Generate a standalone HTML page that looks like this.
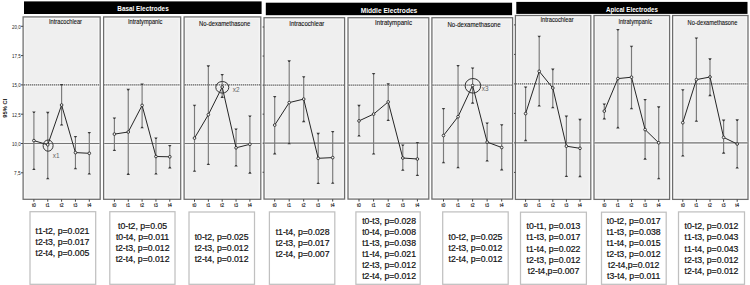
<!DOCTYPE html><html><head><meta charset="utf-8"><style>html,body{margin:0;padding:0;background:#fff;width:750px;height:285px;overflow:hidden}svg{display:block}text{font-family:"Liberation Sans", sans-serif}</style></head><body>
<svg width="750" height="285" viewBox="0 0 750 285">
<rect x="0" y="0" width="750" height="285" fill="#fff"/>
<rect x="24" y="1.4" width="237.6" height="12.6" fill="#000"/>
<text x="143" y="11" font-size="6.4" font-weight="bold" fill="#fff" text-anchor="middle" textLength="51.4" lengthAdjust="spacingAndGlyphs">Basal Electrodes</text>
<rect x="23.1" y="16.9" width="77.1" height="182.4" fill="#efefef" stroke="#6e6e6e" stroke-width="1.25"/>
<rect x="24.7" y="18.5" width="73.9" height="179.2" fill="none" stroke="#fff" stroke-opacity="0.55" stroke-width="0.9"/>
<line x1="23.7" y1="83.4" x2="99.6" y2="83.4" stroke="#fff" stroke-opacity="0.55" stroke-width="0.9"/>
<line x1="23.7" y1="86.4" x2="99.6" y2="86.4" stroke="#fff" stroke-opacity="0.55" stroke-width="0.9"/>
<line x1="23.7" y1="142" x2="99.6" y2="142" stroke="#fff" stroke-opacity="0.55" stroke-width="0.9"/>
<line x1="23.7" y1="145" x2="99.6" y2="145" stroke="#fff" stroke-opacity="0.55" stroke-width="0.9"/>
<line x1="23.7" y1="84.9" x2="99.6" y2="84.9" stroke="#5a5a5a" stroke-width="1.2" stroke-dasharray="1.25,0.75"/>
<line x1="23.7" y1="143.5" x2="99.6" y2="143.5" stroke="#767676" stroke-width="1.2"/>
<text x="49" y="23.9" font-size="6.4" fill="#111" stroke="#111" stroke-width="0.1" textLength="33" lengthAdjust="spacingAndGlyphs">Intracochlear</text>
<line x1="33.9" y1="199.3" x2="33.9" y2="201.7" stroke="#444" stroke-width="1"/>
<text x="33.9" y="206.8" font-size="4.6" fill="#222" stroke="#222" stroke-width="0.15" text-anchor="middle">t0</text>
<line x1="47.75" y1="199.3" x2="47.75" y2="201.7" stroke="#444" stroke-width="1"/>
<text x="47.75" y="206.8" font-size="4.6" fill="#222" stroke="#222" stroke-width="0.15" text-anchor="middle">t1</text>
<line x1="61.6" y1="199.3" x2="61.6" y2="201.7" stroke="#444" stroke-width="1"/>
<text x="61.6" y="206.8" font-size="4.6" fill="#222" stroke="#222" stroke-width="0.15" text-anchor="middle">t2</text>
<line x1="75.45" y1="199.3" x2="75.45" y2="201.7" stroke="#444" stroke-width="1"/>
<text x="75.45" y="206.8" font-size="4.6" fill="#222" stroke="#222" stroke-width="0.15" text-anchor="middle">t3</text>
<line x1="89.3" y1="199.3" x2="89.3" y2="201.7" stroke="#444" stroke-width="1"/>
<text x="89.3" y="206.8" font-size="4.6" fill="#222" stroke="#222" stroke-width="0.15" text-anchor="middle">t4</text>
<line x1="33.9" y1="112" x2="33.9" y2="169.4" stroke="#7a7a7a" stroke-width="1.15"/>
<path d="M32.2 111.4H35.6L34.5 113H33.3Z" fill="#3a3a3a"/>
<path d="M32.2 170H35.6L34.5 168.4H33.3Z" fill="#3a3a3a"/>
<line x1="47.75" y1="112.4" x2="47.75" y2="178.7" stroke="#7a7a7a" stroke-width="1.15"/>
<path d="M46.05 111.8H49.45L48.35 113.4H47.15Z" fill="#3a3a3a"/>
<path d="M46.05 179.3H49.45L48.35 177.7H47.15Z" fill="#3a3a3a"/>
<line x1="61.6" y1="84.5" x2="61.6" y2="125" stroke="#7a7a7a" stroke-width="1.15"/>
<path d="M59.9 83.9H63.3L62.2 85.5H61Z" fill="#3a3a3a"/>
<path d="M59.9 125.6H63.3L62.2 124H61Z" fill="#3a3a3a"/>
<line x1="75.45" y1="136.6" x2="75.45" y2="168.7" stroke="#7a7a7a" stroke-width="1.15"/>
<path d="M73.75 136H77.15L76.05 137.6H74.85Z" fill="#3a3a3a"/>
<path d="M73.75 169.3H77.15L76.05 167.7H74.85Z" fill="#3a3a3a"/>
<line x1="89.3" y1="132.6" x2="89.3" y2="174" stroke="#7a7a7a" stroke-width="1.15"/>
<path d="M87.6 132H91L89.9 133.6H88.7Z" fill="#3a3a3a"/>
<path d="M87.6 174.6H91L89.9 173H88.7Z" fill="#3a3a3a"/>
<polyline points="33.9,140.6 47.75,144.8 61.6,105 75.45,152.6 89.3,153.3" fill="none" stroke="#262626" stroke-width="1"/>
<circle cx="33.9" cy="140.6" r="1.35" fill="#f4f4f4" stroke="#222" stroke-width="0.85"/>
<circle cx="47.75" cy="144.8" r="1.35" fill="#f4f4f4" stroke="#222" stroke-width="0.85"/>
<circle cx="61.6" cy="105" r="1.35" fill="#f4f4f4" stroke="#222" stroke-width="0.85"/>
<circle cx="75.45" cy="152.6" r="1.35" fill="#f4f4f4" stroke="#222" stroke-width="0.85"/>
<circle cx="89.3" cy="153.3" r="1.35" fill="#f4f4f4" stroke="#222" stroke-width="0.85"/>
<rect x="103.6" y="16.9" width="77.1" height="182.4" fill="#efefef" stroke="#6e6e6e" stroke-width="1.25"/>
<rect x="105.2" y="18.5" width="73.9" height="179.2" fill="none" stroke="#fff" stroke-opacity="0.55" stroke-width="0.9"/>
<line x1="104.2" y1="83.4" x2="180.1" y2="83.4" stroke="#fff" stroke-opacity="0.55" stroke-width="0.9"/>
<line x1="104.2" y1="86.4" x2="180.1" y2="86.4" stroke="#fff" stroke-opacity="0.55" stroke-width="0.9"/>
<line x1="104.2" y1="142" x2="180.1" y2="142" stroke="#fff" stroke-opacity="0.55" stroke-width="0.9"/>
<line x1="104.2" y1="145" x2="180.1" y2="145" stroke="#fff" stroke-opacity="0.55" stroke-width="0.9"/>
<line x1="104.2" y1="84.9" x2="180.1" y2="84.9" stroke="#5a5a5a" stroke-width="1.2" stroke-dasharray="1.25,0.75"/>
<line x1="104.2" y1="143.5" x2="180.1" y2="143.5" stroke="#767676" stroke-width="1.2"/>
<text x="128" y="24" font-size="6.4" fill="#111" stroke="#111" stroke-width="0.1" textLength="34.4" lengthAdjust="spacingAndGlyphs">Intratympanic</text>
<line x1="114.4" y1="199.3" x2="114.4" y2="201.7" stroke="#444" stroke-width="1"/>
<text x="114.4" y="206.8" font-size="4.6" fill="#222" stroke="#222" stroke-width="0.15" text-anchor="middle">t0</text>
<line x1="128.25" y1="199.3" x2="128.25" y2="201.7" stroke="#444" stroke-width="1"/>
<text x="128.25" y="206.8" font-size="4.6" fill="#222" stroke="#222" stroke-width="0.15" text-anchor="middle">t1</text>
<line x1="142.1" y1="199.3" x2="142.1" y2="201.7" stroke="#444" stroke-width="1"/>
<text x="142.1" y="206.8" font-size="4.6" fill="#222" stroke="#222" stroke-width="0.15" text-anchor="middle">t2</text>
<line x1="155.95" y1="199.3" x2="155.95" y2="201.7" stroke="#444" stroke-width="1"/>
<text x="155.95" y="206.8" font-size="4.6" fill="#222" stroke="#222" stroke-width="0.15" text-anchor="middle">t3</text>
<line x1="169.8" y1="199.3" x2="169.8" y2="201.7" stroke="#444" stroke-width="1"/>
<text x="169.8" y="206.8" font-size="4.6" fill="#222" stroke="#222" stroke-width="0.15" text-anchor="middle">t4</text>
<line x1="114.4" y1="118" x2="114.4" y2="150.4" stroke="#7a7a7a" stroke-width="1.15"/>
<path d="M112.7 117.4H116.1L115 119H113.8Z" fill="#3a3a3a"/>
<path d="M112.7 151H116.1L115 149.4H113.8Z" fill="#3a3a3a"/>
<line x1="128.25" y1="89.4" x2="128.25" y2="174.3" stroke="#7a7a7a" stroke-width="1.15"/>
<path d="M126.55 88.8H129.95L128.85 90.4H127.65Z" fill="#3a3a3a"/>
<path d="M126.55 174.9H129.95L128.85 173.3H127.65Z" fill="#3a3a3a"/>
<line x1="142.1" y1="84" x2="142.1" y2="127.7" stroke="#7a7a7a" stroke-width="1.15"/>
<path d="M140.4 83.4H143.8L142.7 85H141.5Z" fill="#3a3a3a"/>
<path d="M140.4 128.3H143.8L142.7 126.7H141.5Z" fill="#3a3a3a"/>
<line x1="155.95" y1="138.1" x2="155.95" y2="174" stroke="#7a7a7a" stroke-width="1.15"/>
<path d="M154.25 137.5H157.65L156.55 139.1H155.35Z" fill="#3a3a3a"/>
<path d="M154.25 174.6H157.65L156.55 173H155.35Z" fill="#3a3a3a"/>
<line x1="169.8" y1="145.5" x2="169.8" y2="167.8" stroke="#7a7a7a" stroke-width="1.15"/>
<path d="M168.1 144.9H171.5L170.4 146.5H169.2Z" fill="#3a3a3a"/>
<path d="M168.1 168.4H171.5L170.4 166.8H169.2Z" fill="#3a3a3a"/>
<polyline points="114.4,134.1 128.25,132 142.1,105.4 155.95,156.5 169.8,156.8" fill="none" stroke="#262626" stroke-width="1"/>
<circle cx="114.4" cy="134.1" r="1.35" fill="#f4f4f4" stroke="#222" stroke-width="0.85"/>
<circle cx="128.25" cy="132" r="1.35" fill="#f4f4f4" stroke="#222" stroke-width="0.85"/>
<circle cx="142.1" cy="105.4" r="1.35" fill="#f4f4f4" stroke="#222" stroke-width="0.85"/>
<circle cx="155.95" cy="156.5" r="1.35" fill="#f4f4f4" stroke="#222" stroke-width="0.85"/>
<circle cx="169.8" cy="156.8" r="1.35" fill="#f4f4f4" stroke="#222" stroke-width="0.85"/>
<rect x="184.1" y="16.9" width="76.7" height="182.4" fill="#efefef" stroke="#6e6e6e" stroke-width="1.25"/>
<rect x="185.7" y="18.5" width="73.5" height="179.2" fill="none" stroke="#fff" stroke-opacity="0.55" stroke-width="0.9"/>
<line x1="184.7" y1="83.4" x2="260.2" y2="83.4" stroke="#fff" stroke-opacity="0.55" stroke-width="0.9"/>
<line x1="184.7" y1="86.4" x2="260.2" y2="86.4" stroke="#fff" stroke-opacity="0.55" stroke-width="0.9"/>
<line x1="184.7" y1="142" x2="260.2" y2="142" stroke="#fff" stroke-opacity="0.55" stroke-width="0.9"/>
<line x1="184.7" y1="145" x2="260.2" y2="145" stroke="#fff" stroke-opacity="0.55" stroke-width="0.9"/>
<line x1="184.7" y1="84.9" x2="260.2" y2="84.9" stroke="#5a5a5a" stroke-width="1.2" stroke-dasharray="1.25,0.75"/>
<line x1="184.7" y1="143.5" x2="260.2" y2="143.5" stroke="#767676" stroke-width="1.2"/>
<text x="199" y="25.5" font-size="6.4" fill="#111" stroke="#111" stroke-width="0.1" textLength="51.2" lengthAdjust="spacingAndGlyphs">No-dexamethasone</text>
<line x1="194.5" y1="199.3" x2="194.5" y2="201.7" stroke="#444" stroke-width="1"/>
<text x="194.5" y="206.8" font-size="4.6" fill="#222" stroke="#222" stroke-width="0.15" text-anchor="middle">t0</text>
<line x1="208.35" y1="199.3" x2="208.35" y2="201.7" stroke="#444" stroke-width="1"/>
<text x="208.35" y="206.8" font-size="4.6" fill="#222" stroke="#222" stroke-width="0.15" text-anchor="middle">t1</text>
<line x1="222.2" y1="199.3" x2="222.2" y2="201.7" stroke="#444" stroke-width="1"/>
<text x="222.2" y="206.8" font-size="4.6" fill="#222" stroke="#222" stroke-width="0.15" text-anchor="middle">t2</text>
<line x1="236.05" y1="199.3" x2="236.05" y2="201.7" stroke="#444" stroke-width="1"/>
<text x="236.05" y="206.8" font-size="4.6" fill="#222" stroke="#222" stroke-width="0.15" text-anchor="middle">t3</text>
<line x1="249.9" y1="199.3" x2="249.9" y2="201.7" stroke="#444" stroke-width="1"/>
<text x="249.9" y="206.8" font-size="4.6" fill="#222" stroke="#222" stroke-width="0.15" text-anchor="middle">t4</text>
<line x1="194.5" y1="105.3" x2="194.5" y2="171.2" stroke="#7a7a7a" stroke-width="1.15"/>
<path d="M192.8 104.7H196.2L195.1 106.3H193.9Z" fill="#3a3a3a"/>
<path d="M192.8 171.8H196.2L195.1 170.2H193.9Z" fill="#3a3a3a"/>
<line x1="208.35" y1="65.9" x2="208.35" y2="164.5" stroke="#7a7a7a" stroke-width="1.15"/>
<path d="M206.65 65.3H210.05L208.95 66.9H207.75Z" fill="#3a3a3a"/>
<path d="M206.65 165.1H210.05L208.95 163.5H207.75Z" fill="#3a3a3a"/>
<line x1="222.2" y1="74.6" x2="222.2" y2="97.3" stroke="#7a7a7a" stroke-width="1.15"/>
<path d="M220.5 74H223.9L222.8 75.6H221.6Z" fill="#3a3a3a"/>
<path d="M220.5 97.9H223.9L222.8 96.3H221.6Z" fill="#3a3a3a"/>
<line x1="236.05" y1="129.1" x2="236.05" y2="165.9" stroke="#7a7a7a" stroke-width="1.15"/>
<path d="M234.35 128.5H237.75L236.65 130.1H235.45Z" fill="#3a3a3a"/>
<path d="M234.35 166.5H237.75L236.65 164.9H235.45Z" fill="#3a3a3a"/>
<line x1="249.9" y1="116.1" x2="249.9" y2="173.1" stroke="#7a7a7a" stroke-width="1.15"/>
<path d="M248.2 115.5H251.6L250.5 117.1H249.3Z" fill="#3a3a3a"/>
<path d="M248.2 173.7H251.6L250.5 172.1H249.3Z" fill="#3a3a3a"/>
<polyline points="194.5,138.1 208.35,114.7 222.2,87 236.05,147.8 249.9,144.3" fill="none" stroke="#262626" stroke-width="1"/>
<circle cx="194.5" cy="138.1" r="1.35" fill="#f4f4f4" stroke="#222" stroke-width="0.85"/>
<circle cx="208.35" cy="114.7" r="1.35" fill="#f4f4f4" stroke="#222" stroke-width="0.85"/>
<circle cx="222.2" cy="87" r="1.35" fill="#f4f4f4" stroke="#222" stroke-width="0.85"/>
<circle cx="236.05" cy="147.8" r="1.35" fill="#f4f4f4" stroke="#222" stroke-width="0.85"/>
<circle cx="249.9" cy="144.3" r="1.35" fill="#f4f4f4" stroke="#222" stroke-width="0.85"/>
<line x1="20.9" y1="26.3" x2="23.1" y2="26.3" stroke="#444" stroke-width="1"/>
<text x="20.7" y="28.6" font-size="5.2" fill="#222" text-anchor="end" textLength="8.6" lengthAdjust="spacingAndGlyphs">20,0</text>
<line x1="20.9" y1="55.6" x2="23.1" y2="55.6" stroke="#444" stroke-width="1"/>
<text x="20.7" y="57.9" font-size="5.2" fill="#222" text-anchor="end" textLength="8.6" lengthAdjust="spacingAndGlyphs">17,5</text>
<line x1="20.9" y1="84.9" x2="23.1" y2="84.9" stroke="#444" stroke-width="1"/>
<text x="20.7" y="87.2" font-size="5.2" fill="#222" text-anchor="end" textLength="8.6" lengthAdjust="spacingAndGlyphs">15,0</text>
<line x1="20.9" y1="114.2" x2="23.1" y2="114.2" stroke="#444" stroke-width="1"/>
<text x="20.7" y="116.5" font-size="5.2" fill="#222" text-anchor="end" textLength="8.6" lengthAdjust="spacingAndGlyphs">12,5</text>
<line x1="20.9" y1="143.5" x2="23.1" y2="143.5" stroke="#444" stroke-width="1"/>
<text x="20.7" y="145.8" font-size="5.2" fill="#222" text-anchor="end" textLength="8.6" lengthAdjust="spacingAndGlyphs">10,0</text>
<line x1="20.9" y1="172.8" x2="23.1" y2="172.8" stroke="#444" stroke-width="1"/>
<text x="20.7" y="175.1" font-size="5.2" fill="#222" text-anchor="end" textLength="6.6" lengthAdjust="spacingAndGlyphs">7,5</text>
<rect x="265.8" y="2.7" width="246.3" height="12.5" fill="#000"/>
<text x="389" y="12.7" font-size="6.4" font-weight="bold" fill="#fff" text-anchor="middle" textLength="56.6" lengthAdjust="spacingAndGlyphs">Middle Electrodes</text>
<rect x="264" y="17.7" width="80.6" height="181.4" fill="#efefef" stroke="#6e6e6e" stroke-width="1.25"/>
<rect x="265.6" y="19.3" width="77.4" height="178.2" fill="none" stroke="#fff" stroke-opacity="0.55" stroke-width="0.9"/>
<line x1="264.6" y1="83.6" x2="344" y2="83.6" stroke="#fff" stroke-opacity="0.55" stroke-width="0.9"/>
<line x1="264.6" y1="86.6" x2="344" y2="86.6" stroke="#fff" stroke-opacity="0.55" stroke-width="0.9"/>
<line x1="264.6" y1="141.7" x2="344" y2="141.7" stroke="#fff" stroke-opacity="0.55" stroke-width="0.9"/>
<line x1="264.6" y1="144.7" x2="344" y2="144.7" stroke="#fff" stroke-opacity="0.55" stroke-width="0.9"/>
<line x1="264.6" y1="85.1" x2="344" y2="85.1" stroke="#5a5a5a" stroke-width="1.2" stroke-dasharray="1.25,0.75"/>
<line x1="264.6" y1="143.2" x2="344" y2="143.2" stroke="#767676" stroke-width="1.2"/>
<text x="289.2" y="25.5" font-size="6.4" fill="#111" stroke="#111" stroke-width="0.1" textLength="35.2" lengthAdjust="spacingAndGlyphs">Intracochlear</text>
<line x1="274.7" y1="199.1" x2="274.7" y2="201.5" stroke="#444" stroke-width="1"/>
<text x="274.7" y="206.6" font-size="4.6" fill="#222" stroke="#222" stroke-width="0.15" text-anchor="middle">t0</text>
<line x1="289.2" y1="199.1" x2="289.2" y2="201.5" stroke="#444" stroke-width="1"/>
<text x="289.2" y="206.6" font-size="4.6" fill="#222" stroke="#222" stroke-width="0.15" text-anchor="middle">t1</text>
<line x1="303.7" y1="199.1" x2="303.7" y2="201.5" stroke="#444" stroke-width="1"/>
<text x="303.7" y="206.6" font-size="4.6" fill="#222" stroke="#222" stroke-width="0.15" text-anchor="middle">t2</text>
<line x1="318.2" y1="199.1" x2="318.2" y2="201.5" stroke="#444" stroke-width="1"/>
<text x="318.2" y="206.6" font-size="4.6" fill="#222" stroke="#222" stroke-width="0.15" text-anchor="middle">t3</text>
<line x1="332.7" y1="199.1" x2="332.7" y2="201.5" stroke="#444" stroke-width="1"/>
<text x="332.7" y="206.6" font-size="4.6" fill="#222" stroke="#222" stroke-width="0.15" text-anchor="middle">t4</text>
<line x1="274.7" y1="96.6" x2="274.7" y2="153.8" stroke="#7a7a7a" stroke-width="1.15"/>
<path d="M273 96H276.4L275.3 97.6H274.1Z" fill="#3a3a3a"/>
<path d="M273 154.4H276.4L275.3 152.8H274.1Z" fill="#3a3a3a"/>
<line x1="289.2" y1="60.9" x2="289.2" y2="143.7" stroke="#7a7a7a" stroke-width="1.15"/>
<path d="M287.5 60.3H290.9L289.8 61.9H288.6Z" fill="#3a3a3a"/>
<path d="M287.5 144.3H290.9L289.8 142.7H288.6Z" fill="#3a3a3a"/>
<line x1="303.7" y1="76.8" x2="303.7" y2="121.6" stroke="#7a7a7a" stroke-width="1.15"/>
<path d="M302 76.2H305.4L304.3 77.8H303.1Z" fill="#3a3a3a"/>
<path d="M302 122.2H305.4L304.3 120.6H303.1Z" fill="#3a3a3a"/>
<line x1="318.2" y1="133.4" x2="318.2" y2="183.4" stroke="#7a7a7a" stroke-width="1.15"/>
<path d="M316.5 132.8H319.9L318.8 134.4H317.6Z" fill="#3a3a3a"/>
<path d="M316.5 184H319.9L318.8 182.4H317.6Z" fill="#3a3a3a"/>
<line x1="332.7" y1="131.6" x2="332.7" y2="183.2" stroke="#7a7a7a" stroke-width="1.15"/>
<path d="M331 131H334.4L333.3 132.6H332.1Z" fill="#3a3a3a"/>
<path d="M331 183.8H334.4L333.3 182.2H332.1Z" fill="#3a3a3a"/>
<polyline points="274.7,125.1 289.2,102.6 303.7,99.1 318.2,158.3 332.7,157.6" fill="none" stroke="#262626" stroke-width="1"/>
<circle cx="274.7" cy="125.1" r="1.35" fill="#f4f4f4" stroke="#222" stroke-width="0.85"/>
<circle cx="289.2" cy="102.6" r="1.35" fill="#f4f4f4" stroke="#222" stroke-width="0.85"/>
<circle cx="303.7" cy="99.1" r="1.35" fill="#f4f4f4" stroke="#222" stroke-width="0.85"/>
<circle cx="318.2" cy="158.3" r="1.35" fill="#f4f4f4" stroke="#222" stroke-width="0.85"/>
<circle cx="332.7" cy="157.6" r="1.35" fill="#f4f4f4" stroke="#222" stroke-width="0.85"/>
<rect x="348" y="17.7" width="80.8" height="181.4" fill="#efefef" stroke="#6e6e6e" stroke-width="1.25"/>
<rect x="349.6" y="19.3" width="77.6" height="178.2" fill="none" stroke="#fff" stroke-opacity="0.55" stroke-width="0.9"/>
<line x1="348.6" y1="83.6" x2="428.2" y2="83.6" stroke="#fff" stroke-opacity="0.55" stroke-width="0.9"/>
<line x1="348.6" y1="86.6" x2="428.2" y2="86.6" stroke="#fff" stroke-opacity="0.55" stroke-width="0.9"/>
<line x1="348.6" y1="141.7" x2="428.2" y2="141.7" stroke="#fff" stroke-opacity="0.55" stroke-width="0.9"/>
<line x1="348.6" y1="144.7" x2="428.2" y2="144.7" stroke="#fff" stroke-opacity="0.55" stroke-width="0.9"/>
<line x1="348.6" y1="85.1" x2="428.2" y2="85.1" stroke="#5a5a5a" stroke-width="1.2" stroke-dasharray="1.25,0.75"/>
<line x1="348.6" y1="143.2" x2="428.2" y2="143.2" stroke="#767676" stroke-width="1.2"/>
<text x="375" y="25.3" font-size="6.4" fill="#111" stroke="#111" stroke-width="0.1" textLength="37" lengthAdjust="spacingAndGlyphs">Intratympanic</text>
<line x1="359" y1="199.1" x2="359" y2="201.5" stroke="#444" stroke-width="1"/>
<text x="359" y="206.6" font-size="4.6" fill="#222" stroke="#222" stroke-width="0.15" text-anchor="middle">t0</text>
<line x1="373.6" y1="199.1" x2="373.6" y2="201.5" stroke="#444" stroke-width="1"/>
<text x="373.6" y="206.6" font-size="4.6" fill="#222" stroke="#222" stroke-width="0.15" text-anchor="middle">t1</text>
<line x1="388.2" y1="199.1" x2="388.2" y2="201.5" stroke="#444" stroke-width="1"/>
<text x="388.2" y="206.6" font-size="4.6" fill="#222" stroke="#222" stroke-width="0.15" text-anchor="middle">t2</text>
<line x1="402.8" y1="199.1" x2="402.8" y2="201.5" stroke="#444" stroke-width="1"/>
<text x="402.8" y="206.6" font-size="4.6" fill="#222" stroke="#222" stroke-width="0.15" text-anchor="middle">t3</text>
<line x1="417.4" y1="199.1" x2="417.4" y2="201.5" stroke="#444" stroke-width="1"/>
<text x="417.4" y="206.6" font-size="4.6" fill="#222" stroke="#222" stroke-width="0.15" text-anchor="middle">t4</text>
<line x1="359" y1="105.4" x2="359" y2="135.9" stroke="#7a7a7a" stroke-width="1.15"/>
<path d="M357.3 104.8H360.7L359.6 106.4H358.4Z" fill="#3a3a3a"/>
<path d="M357.3 136.5H360.7L359.6 134.9H358.4Z" fill="#3a3a3a"/>
<line x1="373.6" y1="73.5" x2="373.6" y2="154" stroke="#7a7a7a" stroke-width="1.15"/>
<path d="M371.9 72.9H375.3L374.2 74.5H373Z" fill="#3a3a3a"/>
<path d="M371.9 154.6H375.3L374.2 153H373Z" fill="#3a3a3a"/>
<line x1="388.2" y1="83.8" x2="388.2" y2="120.5" stroke="#7a7a7a" stroke-width="1.15"/>
<path d="M386.5 83.2H389.9L388.8 84.8H387.6Z" fill="#3a3a3a"/>
<path d="M386.5 121.1H389.9L388.8 119.5H387.6Z" fill="#3a3a3a"/>
<line x1="402.8" y1="145.1" x2="402.8" y2="170.2" stroke="#7a7a7a" stroke-width="1.15"/>
<path d="M401.1 144.5H404.5L403.4 146.1H402.2Z" fill="#3a3a3a"/>
<path d="M401.1 170.8H404.5L403.4 169.2H402.2Z" fill="#3a3a3a"/>
<line x1="417.4" y1="142.5" x2="417.4" y2="175.4" stroke="#7a7a7a" stroke-width="1.15"/>
<path d="M415.7 141.9H419.1L418 143.5H416.8Z" fill="#3a3a3a"/>
<path d="M415.7 176H419.1L418 174.4H416.8Z" fill="#3a3a3a"/>
<polyline points="359,120.9 373.6,114.1 388.2,101.9 402.8,158 417.4,159" fill="none" stroke="#262626" stroke-width="1"/>
<circle cx="359" cy="120.9" r="1.35" fill="#f4f4f4" stroke="#222" stroke-width="0.85"/>
<circle cx="373.6" cy="114.1" r="1.35" fill="#f4f4f4" stroke="#222" stroke-width="0.85"/>
<circle cx="388.2" cy="101.9" r="1.35" fill="#f4f4f4" stroke="#222" stroke-width="0.85"/>
<circle cx="402.8" cy="158" r="1.35" fill="#f4f4f4" stroke="#222" stroke-width="0.85"/>
<circle cx="417.4" cy="159" r="1.35" fill="#f4f4f4" stroke="#222" stroke-width="0.85"/>
<rect x="431.9" y="17.7" width="80.7" height="181.4" fill="#efefef" stroke="#6e6e6e" stroke-width="1.25"/>
<rect x="433.5" y="19.3" width="77.5" height="178.2" fill="none" stroke="#fff" stroke-opacity="0.55" stroke-width="0.9"/>
<line x1="432.5" y1="83.6" x2="512" y2="83.6" stroke="#fff" stroke-opacity="0.55" stroke-width="0.9"/>
<line x1="432.5" y1="86.6" x2="512" y2="86.6" stroke="#fff" stroke-opacity="0.55" stroke-width="0.9"/>
<line x1="432.5" y1="141.7" x2="512" y2="141.7" stroke="#fff" stroke-opacity="0.55" stroke-width="0.9"/>
<line x1="432.5" y1="144.7" x2="512" y2="144.7" stroke="#fff" stroke-opacity="0.55" stroke-width="0.9"/>
<line x1="432.5" y1="85.1" x2="512" y2="85.1" stroke="#5a5a5a" stroke-width="1.2" stroke-dasharray="1.25,0.75"/>
<line x1="432.5" y1="143.2" x2="512" y2="143.2" stroke="#767676" stroke-width="1.2"/>
<text x="447.4" y="26.5" font-size="6.4" fill="#111" stroke="#111" stroke-width="0.1" textLength="53.2" lengthAdjust="spacingAndGlyphs">No-dexamethasone</text>
<line x1="443.5" y1="199.1" x2="443.5" y2="201.5" stroke="#444" stroke-width="1"/>
<text x="443.5" y="206.6" font-size="4.6" fill="#222" stroke="#222" stroke-width="0.15" text-anchor="middle">t0</text>
<line x1="458.05" y1="199.1" x2="458.05" y2="201.5" stroke="#444" stroke-width="1"/>
<text x="458.05" y="206.6" font-size="4.6" fill="#222" stroke="#222" stroke-width="0.15" text-anchor="middle">t1</text>
<line x1="472.6" y1="199.1" x2="472.6" y2="201.5" stroke="#444" stroke-width="1"/>
<text x="472.6" y="206.6" font-size="4.6" fill="#222" stroke="#222" stroke-width="0.15" text-anchor="middle">t2</text>
<line x1="487.15" y1="199.1" x2="487.15" y2="201.5" stroke="#444" stroke-width="1"/>
<text x="487.15" y="206.6" font-size="4.6" fill="#222" stroke="#222" stroke-width="0.15" text-anchor="middle">t3</text>
<line x1="501.7" y1="199.1" x2="501.7" y2="201.5" stroke="#444" stroke-width="1"/>
<text x="501.7" y="206.6" font-size="4.6" fill="#222" stroke="#222" stroke-width="0.15" text-anchor="middle">t4</text>
<line x1="443.5" y1="108.5" x2="443.5" y2="162.7" stroke="#7a7a7a" stroke-width="1.15"/>
<path d="M441.8 107.9H445.2L444.1 109.5H442.9Z" fill="#3a3a3a"/>
<path d="M441.8 163.3H445.2L444.1 161.7H442.9Z" fill="#3a3a3a"/>
<line x1="458.05" y1="65.5" x2="458.05" y2="167.7" stroke="#7a7a7a" stroke-width="1.15"/>
<path d="M456.35 64.9H459.75L458.65 66.5H457.45Z" fill="#3a3a3a"/>
<path d="M456.35 168.3H459.75L458.65 166.7H457.45Z" fill="#3a3a3a"/>
<line x1="472.6" y1="68.1" x2="472.6" y2="103.1" stroke="#7a7a7a" stroke-width="1.15"/>
<path d="M470.9 67.5H474.3L473.2 69.1H472Z" fill="#3a3a3a"/>
<path d="M470.9 103.7H474.3L473.2 102.1H472Z" fill="#3a3a3a"/>
<line x1="487.15" y1="123" x2="487.15" y2="161" stroke="#7a7a7a" stroke-width="1.15"/>
<path d="M485.45 122.4H488.85L487.75 124H486.55Z" fill="#3a3a3a"/>
<path d="M485.45 161.6H488.85L487.75 160H486.55Z" fill="#3a3a3a"/>
<line x1="501.7" y1="124.8" x2="501.7" y2="169.8" stroke="#7a7a7a" stroke-width="1.15"/>
<path d="M500 124.2H503.4L502.3 125.8H501.1Z" fill="#3a3a3a"/>
<path d="M500 170.4H503.4L502.3 168.8H501.1Z" fill="#3a3a3a"/>
<polyline points="443.5,135.5 458.05,116.7 472.6,85.5 487.15,142.1 501.7,147.5" fill="none" stroke="#262626" stroke-width="1"/>
<circle cx="443.5" cy="135.5" r="1.35" fill="#f4f4f4" stroke="#222" stroke-width="0.85"/>
<circle cx="458.05" cy="116.7" r="1.35" fill="#f4f4f4" stroke="#222" stroke-width="0.85"/>
<circle cx="472.6" cy="85.5" r="1.35" fill="#f4f4f4" stroke="#222" stroke-width="0.85"/>
<circle cx="487.15" cy="142.1" r="1.35" fill="#f4f4f4" stroke="#222" stroke-width="0.85"/>
<circle cx="501.7" cy="147.5" r="1.35" fill="#f4f4f4" stroke="#222" stroke-width="0.85"/>
<line x1="262.6" y1="27" x2="264" y2="27" stroke="#444" stroke-width="1"/>
<line x1="262.6" y1="56.05" x2="264" y2="56.05" stroke="#444" stroke-width="1"/>
<line x1="262.6" y1="85.1" x2="264" y2="85.1" stroke="#444" stroke-width="1"/>
<line x1="262.6" y1="114.15" x2="264" y2="114.15" stroke="#444" stroke-width="1"/>
<line x1="262.6" y1="143.2" x2="264" y2="143.2" stroke="#444" stroke-width="1"/>
<line x1="262.6" y1="172.25" x2="264" y2="172.25" stroke="#444" stroke-width="1"/>
<rect x="516.3" y="1.9" width="231.2" height="12" fill="#000"/>
<text x="632" y="11.6" font-size="6.4" font-weight="bold" fill="#fff" text-anchor="middle" textLength="52" lengthAdjust="spacingAndGlyphs">Apical Electrodes</text>
<rect x="515.4" y="15.5" width="75.4" height="183.9" fill="#efefef" stroke="#6e6e6e" stroke-width="1.25"/>
<rect x="517" y="17.1" width="72.2" height="180.7" fill="none" stroke="#fff" stroke-opacity="0.55" stroke-width="0.9"/>
<line x1="516" y1="82.4" x2="590.2" y2="82.4" stroke="#fff" stroke-opacity="0.55" stroke-width="0.9"/>
<line x1="516" y1="85.4" x2="590.2" y2="85.4" stroke="#fff" stroke-opacity="0.55" stroke-width="0.9"/>
<line x1="516" y1="141.4" x2="590.2" y2="141.4" stroke="#fff" stroke-opacity="0.55" stroke-width="0.9"/>
<line x1="516" y1="144.4" x2="590.2" y2="144.4" stroke="#fff" stroke-opacity="0.55" stroke-width="0.9"/>
<line x1="516" y1="83.9" x2="590.2" y2="83.9" stroke="#5a5a5a" stroke-width="1.2" stroke-dasharray="1.25,0.75"/>
<line x1="516" y1="142.9" x2="590.2" y2="142.9" stroke="#767676" stroke-width="1.2"/>
<text x="540.4" y="22.4" font-size="6.4" fill="#111" stroke="#111" stroke-width="0.1" textLength="33.2" lengthAdjust="spacingAndGlyphs">Intracochlear</text>
<line x1="525.6" y1="199.4" x2="525.6" y2="201.8" stroke="#444" stroke-width="1"/>
<text x="525.6" y="206.9" font-size="4.6" fill="#222" stroke="#222" stroke-width="0.15" text-anchor="middle">t0</text>
<line x1="539.2" y1="199.4" x2="539.2" y2="201.8" stroke="#444" stroke-width="1"/>
<text x="539.2" y="206.9" font-size="4.6" fill="#222" stroke="#222" stroke-width="0.15" text-anchor="middle">t1</text>
<line x1="552.8" y1="199.4" x2="552.8" y2="201.8" stroke="#444" stroke-width="1"/>
<text x="552.8" y="206.9" font-size="4.6" fill="#222" stroke="#222" stroke-width="0.15" text-anchor="middle">t2</text>
<line x1="566.4" y1="199.4" x2="566.4" y2="201.8" stroke="#444" stroke-width="1"/>
<text x="566.4" y="206.9" font-size="4.6" fill="#222" stroke="#222" stroke-width="0.15" text-anchor="middle">t3</text>
<line x1="580" y1="199.4" x2="580" y2="201.8" stroke="#444" stroke-width="1"/>
<text x="580" y="206.9" font-size="4.6" fill="#222" stroke="#222" stroke-width="0.15" text-anchor="middle">t4</text>
<line x1="525.6" y1="87" x2="525.6" y2="140.6" stroke="#7a7a7a" stroke-width="1.15"/>
<path d="M523.9 86.4H527.3L526.2 88H525Z" fill="#3a3a3a"/>
<path d="M523.9 141.2H527.3L526.2 139.6H525Z" fill="#3a3a3a"/>
<line x1="539.2" y1="36.3" x2="539.2" y2="105.9" stroke="#7a7a7a" stroke-width="1.15"/>
<path d="M537.5 35.7H540.9L539.8 37.3H538.6Z" fill="#3a3a3a"/>
<path d="M537.5 106.5H540.9L539.8 104.9H538.6Z" fill="#3a3a3a"/>
<line x1="552.8" y1="69.2" x2="552.8" y2="107.7" stroke="#7a7a7a" stroke-width="1.15"/>
<path d="M551.1 68.6H554.5L553.4 70.2H552.2Z" fill="#3a3a3a"/>
<path d="M551.1 108.3H554.5L553.4 106.7H552.2Z" fill="#3a3a3a"/>
<line x1="566.4" y1="116.2" x2="566.4" y2="176.4" stroke="#7a7a7a" stroke-width="1.15"/>
<path d="M564.7 115.6H568.1L567 117.2H565.8Z" fill="#3a3a3a"/>
<path d="M564.7 177H568.1L567 175.4H565.8Z" fill="#3a3a3a"/>
<line x1="580" y1="119.4" x2="580" y2="176.6" stroke="#7a7a7a" stroke-width="1.15"/>
<path d="M578.3 118.8H581.7L580.6 120.4H579.4Z" fill="#3a3a3a"/>
<path d="M578.3 177.2H581.7L580.6 175.6H579.4Z" fill="#3a3a3a"/>
<polyline points="525.6,113.6 539.2,71.3 552.8,88 566.4,146.2 580,148.3" fill="none" stroke="#262626" stroke-width="1"/>
<circle cx="525.6" cy="113.6" r="1.35" fill="#f4f4f4" stroke="#222" stroke-width="0.85"/>
<circle cx="539.2" cy="71.3" r="1.35" fill="#f4f4f4" stroke="#222" stroke-width="0.85"/>
<circle cx="552.8" cy="88" r="1.35" fill="#f4f4f4" stroke="#222" stroke-width="0.85"/>
<circle cx="566.4" cy="146.2" r="1.35" fill="#f4f4f4" stroke="#222" stroke-width="0.85"/>
<circle cx="580" cy="148.3" r="1.35" fill="#f4f4f4" stroke="#222" stroke-width="0.85"/>
<rect x="594" y="15.5" width="75.6" height="183.9" fill="#efefef" stroke="#6e6e6e" stroke-width="1.25"/>
<rect x="595.6" y="17.1" width="72.4" height="180.7" fill="none" stroke="#fff" stroke-opacity="0.55" stroke-width="0.9"/>
<line x1="594.6" y1="82.4" x2="669" y2="82.4" stroke="#fff" stroke-opacity="0.55" stroke-width="0.9"/>
<line x1="594.6" y1="85.4" x2="669" y2="85.4" stroke="#fff" stroke-opacity="0.55" stroke-width="0.9"/>
<line x1="594.6" y1="141.4" x2="669" y2="141.4" stroke="#fff" stroke-opacity="0.55" stroke-width="0.9"/>
<line x1="594.6" y1="144.4" x2="669" y2="144.4" stroke="#fff" stroke-opacity="0.55" stroke-width="0.9"/>
<line x1="594.6" y1="83.9" x2="669" y2="83.9" stroke="#5a5a5a" stroke-width="1.2" stroke-dasharray="1.25,0.75"/>
<line x1="594.6" y1="142.9" x2="669" y2="142.9" stroke="#767676" stroke-width="1.2"/>
<text x="618.4" y="23.6" font-size="6.4" fill="#111" stroke="#111" stroke-width="0.1" textLength="33.6" lengthAdjust="spacingAndGlyphs">Intratympanic</text>
<line x1="604.3" y1="199.4" x2="604.3" y2="201.8" stroke="#444" stroke-width="1"/>
<text x="604.3" y="206.9" font-size="4.6" fill="#222" stroke="#222" stroke-width="0.15" text-anchor="middle">t0</text>
<line x1="617.9" y1="199.4" x2="617.9" y2="201.8" stroke="#444" stroke-width="1"/>
<text x="617.9" y="206.9" font-size="4.6" fill="#222" stroke="#222" stroke-width="0.15" text-anchor="middle">t1</text>
<line x1="631.5" y1="199.4" x2="631.5" y2="201.8" stroke="#444" stroke-width="1"/>
<text x="631.5" y="206.9" font-size="4.6" fill="#222" stroke="#222" stroke-width="0.15" text-anchor="middle">t2</text>
<line x1="645.1" y1="199.4" x2="645.1" y2="201.8" stroke="#444" stroke-width="1"/>
<text x="645.1" y="206.9" font-size="4.6" fill="#222" stroke="#222" stroke-width="0.15" text-anchor="middle">t3</text>
<line x1="658.7" y1="199.4" x2="658.7" y2="201.8" stroke="#444" stroke-width="1"/>
<text x="658.7" y="206.9" font-size="4.6" fill="#222" stroke="#222" stroke-width="0.15" text-anchor="middle">t4</text>
<line x1="604.3" y1="104" x2="604.3" y2="118.8" stroke="#7a7a7a" stroke-width="1.15"/>
<path d="M602.6 103.4H606L604.9 105H603.7Z" fill="#3a3a3a"/>
<path d="M602.6 119.4H606L604.9 117.8H603.7Z" fill="#3a3a3a"/>
<line x1="617.9" y1="29.6" x2="617.9" y2="127.8" stroke="#7a7a7a" stroke-width="1.15"/>
<path d="M616.2 29H619.6L618.5 30.6H617.3Z" fill="#3a3a3a"/>
<path d="M616.2 128.4H619.6L618.5 126.8H617.3Z" fill="#3a3a3a"/>
<line x1="631.5" y1="46.3" x2="631.5" y2="108.7" stroke="#7a7a7a" stroke-width="1.15"/>
<path d="M629.8 45.7H633.2L632.1 47.3H630.9Z" fill="#3a3a3a"/>
<path d="M629.8 109.3H633.2L632.1 107.7H630.9Z" fill="#3a3a3a"/>
<line x1="645.1" y1="99.6" x2="645.1" y2="159.1" stroke="#7a7a7a" stroke-width="1.15"/>
<path d="M643.4 99H646.8L645.7 100.6H644.5Z" fill="#3a3a3a"/>
<path d="M643.4 159.7H646.8L645.7 158.1H644.5Z" fill="#3a3a3a"/>
<line x1="658.7" y1="106.9" x2="658.7" y2="178.7" stroke="#7a7a7a" stroke-width="1.15"/>
<path d="M657 106.3H660.4L659.3 107.9H658.1Z" fill="#3a3a3a"/>
<path d="M657 179.3H660.4L659.3 177.7H658.1Z" fill="#3a3a3a"/>
<polyline points="604.3,111.1 617.9,78.6 631.5,77.2 645.1,129.6 658.7,142.8" fill="none" stroke="#262626" stroke-width="1"/>
<circle cx="604.3" cy="111.1" r="1.35" fill="#f4f4f4" stroke="#222" stroke-width="0.85"/>
<circle cx="617.9" cy="78.6" r="1.35" fill="#f4f4f4" stroke="#222" stroke-width="0.85"/>
<circle cx="631.5" cy="77.2" r="1.35" fill="#f4f4f4" stroke="#222" stroke-width="0.85"/>
<circle cx="645.1" cy="129.6" r="1.35" fill="#f4f4f4" stroke="#222" stroke-width="0.85"/>
<circle cx="658.7" cy="142.8" r="1.35" fill="#f4f4f4" stroke="#222" stroke-width="0.85"/>
<rect x="672.6" y="15.5" width="75.4" height="183.9" fill="#efefef" stroke="#6e6e6e" stroke-width="1.25"/>
<rect x="674.2" y="17.1" width="72.2" height="180.7" fill="none" stroke="#fff" stroke-opacity="0.55" stroke-width="0.9"/>
<line x1="673.2" y1="82.4" x2="747.4" y2="82.4" stroke="#fff" stroke-opacity="0.55" stroke-width="0.9"/>
<line x1="673.2" y1="85.4" x2="747.4" y2="85.4" stroke="#fff" stroke-opacity="0.55" stroke-width="0.9"/>
<line x1="673.2" y1="141.4" x2="747.4" y2="141.4" stroke="#fff" stroke-opacity="0.55" stroke-width="0.9"/>
<line x1="673.2" y1="144.4" x2="747.4" y2="144.4" stroke="#fff" stroke-opacity="0.55" stroke-width="0.9"/>
<line x1="673.2" y1="83.9" x2="747.4" y2="83.9" stroke="#5a5a5a" stroke-width="1.2" stroke-dasharray="1.25,0.75"/>
<line x1="673.2" y1="142.9" x2="747.4" y2="142.9" stroke="#767676" stroke-width="1.2"/>
<text x="687.6" y="24.5" font-size="6.4" fill="#111" stroke="#111" stroke-width="0.1" textLength="49.8" lengthAdjust="spacingAndGlyphs">No-dexamethasone</text>
<line x1="682.8" y1="199.4" x2="682.8" y2="201.8" stroke="#444" stroke-width="1"/>
<text x="682.8" y="206.9" font-size="4.6" fill="#222" stroke="#222" stroke-width="0.15" text-anchor="middle">t0</text>
<line x1="696.4" y1="199.4" x2="696.4" y2="201.8" stroke="#444" stroke-width="1"/>
<text x="696.4" y="206.9" font-size="4.6" fill="#222" stroke="#222" stroke-width="0.15" text-anchor="middle">t1</text>
<line x1="710" y1="199.4" x2="710" y2="201.8" stroke="#444" stroke-width="1"/>
<text x="710" y="206.9" font-size="4.6" fill="#222" stroke="#222" stroke-width="0.15" text-anchor="middle">t2</text>
<line x1="723.6" y1="199.4" x2="723.6" y2="201.8" stroke="#444" stroke-width="1"/>
<text x="723.6" y="206.9" font-size="4.6" fill="#222" stroke="#222" stroke-width="0.15" text-anchor="middle">t3</text>
<line x1="737.2" y1="199.4" x2="737.2" y2="201.8" stroke="#444" stroke-width="1"/>
<text x="737.2" y="206.9" font-size="4.6" fill="#222" stroke="#222" stroke-width="0.15" text-anchor="middle">t4</text>
<line x1="682.8" y1="89.8" x2="682.8" y2="155.9" stroke="#7a7a7a" stroke-width="1.15"/>
<path d="M681.1 89.2H684.5L683.4 90.8H682.2Z" fill="#3a3a3a"/>
<path d="M681.1 156.5H684.5L683.4 154.9H682.2Z" fill="#3a3a3a"/>
<line x1="696.4" y1="38" x2="696.4" y2="121.2" stroke="#7a7a7a" stroke-width="1.15"/>
<path d="M694.7 37.4H698.1L697 39H695.8Z" fill="#3a3a3a"/>
<path d="M694.7 121.8H698.1L697 120.2H695.8Z" fill="#3a3a3a"/>
<line x1="710" y1="58.9" x2="710" y2="95.6" stroke="#7a7a7a" stroke-width="1.15"/>
<path d="M708.3 58.3H711.7L710.6 59.9H709.4Z" fill="#3a3a3a"/>
<path d="M708.3 96.2H711.7L710.6 94.6H709.4Z" fill="#3a3a3a"/>
<line x1="723.6" y1="120.2" x2="723.6" y2="153.1" stroke="#7a7a7a" stroke-width="1.15"/>
<path d="M721.9 119.6H725.3L724.2 121.2H723Z" fill="#3a3a3a"/>
<path d="M721.9 153.7H725.3L724.2 152.1H723Z" fill="#3a3a3a"/>
<line x1="737.2" y1="119.9" x2="737.2" y2="168" stroke="#7a7a7a" stroke-width="1.15"/>
<path d="M735.5 119.3H738.9L737.8 120.9H736.6Z" fill="#3a3a3a"/>
<path d="M735.5 168.6H738.9L737.8 167H736.6Z" fill="#3a3a3a"/>
<polyline points="682.8,122.7 696.4,79.6 710,77 723.6,137.4 737.2,144" fill="none" stroke="#262626" stroke-width="1"/>
<circle cx="682.8" cy="122.7" r="1.35" fill="#f4f4f4" stroke="#222" stroke-width="0.85"/>
<circle cx="696.4" cy="79.6" r="1.35" fill="#f4f4f4" stroke="#222" stroke-width="0.85"/>
<circle cx="710" cy="77" r="1.35" fill="#f4f4f4" stroke="#222" stroke-width="0.85"/>
<circle cx="723.6" cy="137.4" r="1.35" fill="#f4f4f4" stroke="#222" stroke-width="0.85"/>
<circle cx="737.2" cy="144" r="1.35" fill="#f4f4f4" stroke="#222" stroke-width="0.85"/>
<line x1="514" y1="24.9" x2="515.4" y2="24.9" stroke="#444" stroke-width="1"/>
<line x1="514" y1="54.4" x2="515.4" y2="54.4" stroke="#444" stroke-width="1"/>
<line x1="514" y1="83.9" x2="515.4" y2="83.9" stroke="#444" stroke-width="1"/>
<line x1="514" y1="113.4" x2="515.4" y2="113.4" stroke="#444" stroke-width="1"/>
<line x1="514" y1="142.9" x2="515.4" y2="142.9" stroke="#444" stroke-width="1"/>
<line x1="514" y1="172.4" x2="515.4" y2="172.4" stroke="#444" stroke-width="1"/>
<text transform="translate(7.2,108.2) rotate(-90)" font-size="5.9" font-weight="bold" fill="#111" text-anchor="middle" textLength="19" lengthAdjust="spacingAndGlyphs">95% CI</text>
<ellipse cx="48.1" cy="145.6" rx="5" ry="5.6" fill="none" stroke="#333" stroke-width="1"/>
<text x="52.8" y="157.6" font-size="6.4" fill="#666">x1</text>
<ellipse cx="222.3" cy="87.3" rx="6.5" ry="5.8" fill="none" stroke="#333" stroke-width="1"/>
<text x="232.7" y="91.8" font-size="6.4" fill="#666">x2</text>
<ellipse cx="472.9" cy="85.8" rx="7.8" ry="7.3" fill="none" stroke="#333" stroke-width="1"/>
<text x="481.7" y="90.8" font-size="6.4" fill="#666">x3</text>
<rect x="30" y="211.7" width="65.7" height="72.6" fill="#fff" stroke="#c0c0c0" stroke-width="1.25"/>
<text transform="translate(62.4,234.2) scale(1,1)" font-size="8.7" fill="#111" stroke="#111" stroke-width="0.2" text-anchor="middle">t1-t2, p=0.021</text>
<text transform="translate(62.4,245.15) scale(1,1)" font-size="8.7" fill="#111" stroke="#111" stroke-width="0.2" text-anchor="middle">t2-t3, p=0.017</text>
<text transform="translate(62.4,256.1) scale(1,1)" font-size="8.7" fill="#111" stroke="#111" stroke-width="0.2" text-anchor="middle">t2-t4, p=0.005</text>
<rect x="109.8" y="211.7" width="65.2" height="72.6" fill="#fff" stroke="#c0c0c0" stroke-width="1.25"/>
<text transform="translate(142.55,229) scale(1,1)" font-size="8.7" fill="#111" stroke="#111" stroke-width="0.2" text-anchor="middle">t0-t2, p=0.05</text>
<text transform="translate(142.55,240) scale(1,1)" font-size="8.7" fill="#111" stroke="#111" stroke-width="0.2" text-anchor="middle">t0-t4, p=0.011</text>
<text transform="translate(142.55,251) scale(1,1)" font-size="8.7" fill="#111" stroke="#111" stroke-width="0.2" text-anchor="middle">t2-t3, p=0.012</text>
<text transform="translate(142.55,262) scale(1,1)" font-size="8.7" fill="#111" stroke="#111" stroke-width="0.2" text-anchor="middle">t2-t4, p=0.012</text>
<rect x="189" y="212" width="65.5" height="72.3" fill="#fff" stroke="#c0c0c0" stroke-width="1.25"/>
<text transform="translate(221.6,239.9) scale(1,1)" font-size="8.7" fill="#111" stroke="#111" stroke-width="0.2" text-anchor="middle">t0-t2, p=0.025</text>
<text transform="translate(221.6,250.7) scale(1,1)" font-size="8.7" fill="#111" stroke="#111" stroke-width="0.2" text-anchor="middle">t2-t3, p=0.012</text>
<text transform="translate(221.6,261.5) scale(1,1)" font-size="8.7" fill="#111" stroke="#111" stroke-width="0.2" text-anchor="middle">t2-t4, p=0.012</text>
<rect x="269.4" y="211.9" width="65.4" height="72.4" fill="#fff" stroke="#c0c0c0" stroke-width="1.25"/>
<text transform="translate(302.6,235.4) scale(1,1)" font-size="8.7" fill="#111" stroke="#111" stroke-width="0.2" text-anchor="middle">t1-t4, p=0.028</text>
<text transform="translate(302.6,246.15) scale(1,1)" font-size="8.7" fill="#111" stroke="#111" stroke-width="0.2" text-anchor="middle">t2-t3, p=0.017</text>
<text transform="translate(302.6,256.9) scale(1,1)" font-size="8.7" fill="#111" stroke="#111" stroke-width="0.2" text-anchor="middle">t2-t4, p=0.007</text>
<rect x="355.9" y="211.9" width="64.3" height="72.4" fill="#fff" stroke="#c0c0c0" stroke-width="1.25"/>
<text transform="translate(389.1,223.6) scale(1,1)" font-size="8.7" fill="#111" stroke="#111" stroke-width="0.2" text-anchor="middle">t0-t3, p=0.028</text>
<text transform="translate(389.1,234.6) scale(1,1)" font-size="8.7" fill="#111" stroke="#111" stroke-width="0.2" text-anchor="middle">t0-t4, p=0.008</text>
<text transform="translate(389.1,245.6) scale(1,1)" font-size="8.7" fill="#111" stroke="#111" stroke-width="0.2" text-anchor="middle">t1-t3, p=0.038</text>
<text transform="translate(389.1,256.6) scale(1,1)" font-size="8.7" fill="#111" stroke="#111" stroke-width="0.2" text-anchor="middle">t1-t4, p=0.021</text>
<text transform="translate(389.1,267.6) scale(1,1)" font-size="8.7" fill="#111" stroke="#111" stroke-width="0.2" text-anchor="middle">t2-t3, p=0.012</text>
<text transform="translate(389.1,278.6) scale(1,1)" font-size="8.7" fill="#111" stroke="#111" stroke-width="0.2" text-anchor="middle">t2-t4, p=0.012</text>
<rect x="442.7" y="211.9" width="65.5" height="72.4" fill="#fff" stroke="#c0c0c0" stroke-width="1.25"/>
<text transform="translate(475.5,240.1) scale(1,1)" font-size="8.7" fill="#111" stroke="#111" stroke-width="0.2" text-anchor="middle">t0-t2, p=0.025</text>
<text transform="translate(475.5,251) scale(1,1)" font-size="8.7" fill="#111" stroke="#111" stroke-width="0.2" text-anchor="middle">t2-t3, p=0.012</text>
<text transform="translate(475.5,261.9) scale(1,1)" font-size="8.7" fill="#111" stroke="#111" stroke-width="0.2" text-anchor="middle">t2-t4, p=0.012</text>
<rect x="520.5" y="212.2" width="65.9" height="72.1" fill="#fff" stroke="#c0c0c0" stroke-width="1.25"/>
<text transform="translate(553.5,229.4) scale(1,1)" font-size="8.7" fill="#111" stroke="#111" stroke-width="0.2" text-anchor="middle">t0-t1, p=0.013</text>
<text transform="translate(553.5,240.45) scale(1,1)" font-size="8.7" fill="#111" stroke="#111" stroke-width="0.2" text-anchor="middle">t1-t3, p=0.017</text>
<text transform="translate(553.5,251.5) scale(1,1)" font-size="8.7" fill="#111" stroke="#111" stroke-width="0.2" text-anchor="middle">t1-t4, p=0.022</text>
<text transform="translate(553.5,262.55) scale(1,1)" font-size="8.7" fill="#111" stroke="#111" stroke-width="0.2" text-anchor="middle">t2-t3, p=0.012</text>
<text transform="translate(553.5,273.6) scale(1,1)" font-size="8.7" fill="#111" stroke="#111" stroke-width="0.2" text-anchor="middle">t2-t4,p=0.007</text>
<rect x="601.5" y="212.2" width="64.7" height="72.1" fill="#fff" stroke="#c0c0c0" stroke-width="1.25"/>
<text transform="translate(633.7,223.6) scale(1,1)" font-size="8.7" fill="#111" stroke="#111" stroke-width="0.2" text-anchor="middle">t0-t2, p=0.017</text>
<text transform="translate(633.7,234.68) scale(1,1)" font-size="8.7" fill="#111" stroke="#111" stroke-width="0.2" text-anchor="middle">t1-t3, p=0.038</text>
<text transform="translate(633.7,245.76) scale(1,1)" font-size="8.7" fill="#111" stroke="#111" stroke-width="0.2" text-anchor="middle">t1-t4, p=0.015</text>
<text transform="translate(633.7,256.84) scale(1,1)" font-size="8.7" fill="#111" stroke="#111" stroke-width="0.2" text-anchor="middle">t2-t3, p=0.012</text>
<text transform="translate(633.7,267.92) scale(1,1)" font-size="8.7" fill="#111" stroke="#111" stroke-width="0.2" text-anchor="middle">t2-t4,p=0.012</text>
<text transform="translate(633.7,279) scale(1,1)" font-size="8.7" fill="#111" stroke="#111" stroke-width="0.2" text-anchor="middle">t3-t4, p=0.011</text>
<rect x="678.5" y="211.9" width="66" height="72.4" fill="#fff" stroke="#c0c0c0" stroke-width="1.25"/>
<text transform="translate(711.5,229.4) scale(1,1)" font-size="8.7" fill="#111" stroke="#111" stroke-width="0.2" text-anchor="middle">t0-t2, p=0.012</text>
<text transform="translate(711.5,240.45) scale(1,1)" font-size="8.7" fill="#111" stroke="#111" stroke-width="0.2" text-anchor="middle">t1-t3, p=0.043</text>
<text transform="translate(711.5,251.5) scale(1,1)" font-size="8.7" fill="#111" stroke="#111" stroke-width="0.2" text-anchor="middle">t1-t4, p=0.043</text>
<text transform="translate(711.5,262.55) scale(1,1)" font-size="8.7" fill="#111" stroke="#111" stroke-width="0.2" text-anchor="middle">t2-t3, p=0.012</text>
<text transform="translate(711.5,273.6) scale(1,1)" font-size="8.7" fill="#111" stroke="#111" stroke-width="0.2" text-anchor="middle">t2-t4, p=0.012</text>
</svg></body></html>
